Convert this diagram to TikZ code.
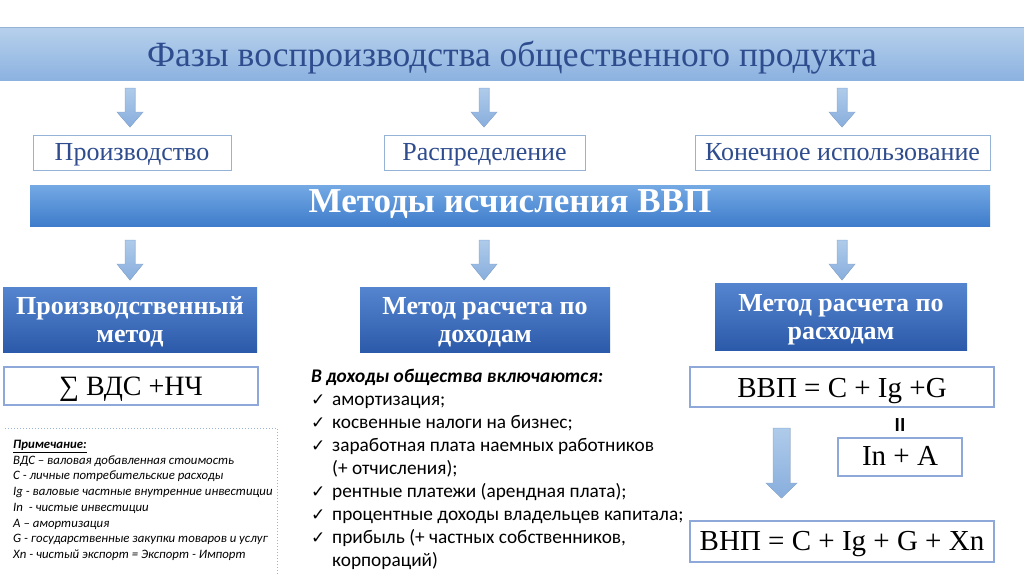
\documentclass[tikz,border=0pt]{standalone}
\usepackage{fontspec}
\setmainfont{Liberation Serif}
\newfontfamily\calfont{Carlito}
\newfontfamily\symfont{DejaVu Sans}
\usetikzlibrary{shadings}
\definecolor{titlecol}{HTML}{2F4D8E}
\definecolor{bandtop}{HTML}{B6D0EC}
\definecolor{bandbot}{HTML}{8CB2E0}
\definecolor{bandtwotop}{HTML}{74A9E4}
\definecolor{bandtwobot}{HTML}{3E7CCB}
\definecolor{darktop}{HTML}{5585CF}
\definecolor{darkbot}{HTML}{2C5AAA}
\definecolor{boxline}{HTML}{95B3D7}
\definecolor{frmline}{HTML}{8EA8DA}
\definecolor{arrtop}{HTML}{AFCBEA}
\definecolor{arrbot}{HTML}{88AEDD}
\definecolor{arredge}{HTML}{8FB0DA}
\definecolor{notecol}{HTML}{9AB4D4}
\newcommand{\ck}{\makebox[21pt][l]{\symfont\fontsize{17}{17}\selectfont ✓}}
\newcommand{\ind}{\makebox[21pt][l]{}}
\newcommand{\twolines}[2]{\parbox[t]{250pt}{\centering #1\\#2}}
\begin{document}
\begin{tikzpicture}[x=1pt,y=-1pt,
  phasebox/.style={draw=boxline, line width=1pt, fill=white, text=titlecol, inner sep=0pt,
    text height=16pt, text depth=0pt, font=\fontsize{26}{30}\selectfont},
  darkbox/.style={top color=darktop, bottom color=darkbot, draw=none, text=white, inner sep=0pt,
    text height=0pt, text depth=11pt, font=\fontsize{26}{28}\selectfont\bfseries},
  frmbox/.style={draw=frmline, line width=2pt, fill=white, inner sep=0pt, text depth=0pt,
    font=\fontsize{29}{32}\selectfont},
  blockarr/.style={top color=arrtop, bottom color=arrbot, draw=arredge, line width=0.5pt},
]
\useasboundingbox (0,0) rectangle (1024,574);
\fill[white] (0,0) rectangle (1024,574);

% title band
\node[top color=bandtop, bottom color=bandbot, draw=none, minimum width=1024pt, minimum height=52pt,
  inner sep=0pt, text=titlecol, text height=24pt, text depth=0pt, font=\fontsize{35.5}{40}\selectfont] (title) at (512,54)
  {Фазы воспроизводства общественного продукта};
\draw[color=boxline, line width=1pt] (title.north west) -- (title.north east);

% small arrows, row 1
\foreach \cx in {130,484,842}{
  \fill[blockarr] (\cx-5,88) -- (\cx+5,88) -- (\cx+5,112) -- (\cx+13,112) -- (\cx,127)
    -- (\cx-13,112) -- (\cx-5,112) -- cycle;
}

% phases
\node[phasebox, minimum width=198pt, minimum height=35pt] (prod) at (132,152.5) {Производство};
\node[phasebox, minimum width=201pt, minimum height=35pt] (distr) at (484.5,152.5) {Распределение};
\node[phasebox, minimum width=295pt, minimum height=35pt] (use) at (842.5,152.5) {Конечное использование};

% methods band
\node[top color=bandtwotop, bottom color=bandtwobot, draw=none, minimum width=960pt, minimum height=41pt,
  inner sep=0pt, text=white, text height=13pt, text depth=0pt, font=\fontsize{35}{38}\selectfont\bfseries] (methods) at (510,205.5)
  {Методы исчисления ВВП};

% small arrows, row 2
\foreach \cx in {130,484,842}{
  \fill[blockarr] (\cx-5,240) -- (\cx+5,240) -- (\cx+5,264) -- (\cx+13,264) -- (\cx,280)
    -- (\cx-13,264) -- (\cx-5,264) -- cycle;
}

% method boxes
\node[darkbox, minimum width=254pt, minimum height=65pt] (m1) at (130,319.5) {\twolines{Производственный}{метод}};
\node[darkbox, minimum width=250pt, minimum height=65pt] (m2) at (485,319.5) {\twolines{Метод расчета по}{доходам}};
\node[darkbox, minimum width=252pt, minimum height=67pt] (m3) at (841,316.5) {\twolines{Метод расчета по}{расходам}};

% formula boxes
\node[frmbox, minimum width=254pt, minimum height=38pt, text height=18pt, font=\fontsize{28}{32}\selectfont] (f1) at (131,386) {∑ ВДС +НЧ};
\node[frmbox, minimum width=304pt, minimum height=40pt, text height=20pt] (f2) at (842,387) {ВВП = C + Ig +G};
\node[frmbox, minimum width=124pt, minimum height=38pt, text height=17pt] (f3) at (900,456.5) {In + A};
\node[frmbox, minimum width=304pt, minimum height=41pt, text height=17pt] (f4) at (842,541.5) {ВНП = C + Ig + G + Xn};
\node[inner sep=0pt, font=\calfont\fontsize{20}{20}\selectfont\bfseries] (eq) at (900,425.5) {II};

% big arrow
\fill[blockarr] (773,428) -- (790,428) -- (790,483) -- (797,483) -- (781.5,498) -- (766,483)
  -- (773,483) -- cycle;

% note box
\draw[notecol, line width=1pt, dotted] (5,428) -- (277,428) -- (277,574);
\node[anchor=north west, inner sep=0pt, align=left, font=\calfont\itshape\fontsize{12.8}{15.7}\selectfont]
  (note) at (13,440) {\textbf{\underline{Примечание:}}\\
ВДС – валовая добавленная стоимость\\
С - личные потребительские расходы\\
Ig - валовые частные внутренние инвестиции\\
In ~- чистые инвестиции\\
А – амортизация\\
G - государственные закупки товаров и услуг\\
Xn - чистый экспорт = Экспорт - Импорт};

% incomes list
\node[anchor=north west, inner sep=0pt, align=left, font=\calfont\fontsize{19.3}{23}\selectfont]
  (inc) at (311,369.5) {\textbf{\textit{В доходы общества включаются:}}\\
\ck амортизация;\\
\ck косвенные налоги на бизнес;\\
\ck заработная плата наемных работников\\
\ind (+ отчисления);\\
\ck рентные платежи (арендная плата);\\
\ck процентные доходы владельцев капитала;\\
\ck прибыль (+ частных собственников,\\
\ind корпораций)};
\end{tikzpicture}
\end{document}
